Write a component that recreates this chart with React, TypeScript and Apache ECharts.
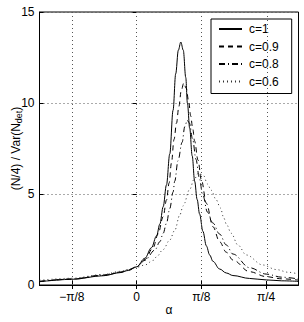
import React, { useEffect, useRef } from "react";
import * as echarts from "echarts";

const PI = Math.PI;

// x-axis ticks (radians) and their labels
const tickValues = [-PI / 8, 0, PI / 8, PI / 4];
const tickLabels = ["−π/8", "0", "π/8", "π/4"];

const seriesNames = ["c=1", "c=0.9", "c=0.8", "c=0.6"];

// c = 1 (solid)
const alphaC1 = [-0.589, -0.395, -0.2, -0.1, -0.05, 0, 0.05, 0.09, 0.121, 0.141, 0.161, 0.181, 0.201, 0.221, 0.237, 0.253, 0.268, 0.283, 0.298, 0.308, 0.322, 0.337, 0.352, 0.367, 0.382, 0.402, 0.423, 0.443, 0.463, 0.503, 0.544, 0.584, 0.685, 0.786, 0.88, 0.982];
const valC1 = [0.18, 0.31, 0.51, 0.68, 0.8, 1.0, 1.47, 2.05, 2.7, 3.35, 4.3, 5.5, 7.2, 9.6, 11.6, 12.9, 13.35, 12.9, 11.4, 10.0, 8.6, 7.1, 5.7, 4.7, 3.9, 2.95, 2.15, 1.65, 1.3, 0.88, 0.66, 0.52, 0.36, 0.28, 0.23, 0.2];

// c = 0.9 (dashed)
const alphaC09 = [-0.589, -0.395, -0.2, -0.1, -0.05, 0, 0.05, 0.1, 0.13, 0.161, 0.181, 0.197, 0.211, 0.227, 0.242, 0.256, 0.271, 0.286, 0.301, 0.316, 0.328, 0.34, 0.352, 0.372, 0.393, 0.423, 0.463, 0.503, 0.544, 0.584, 0.685, 0.786, 0.88, 0.982];
const valC09 = [0.19, 0.32, 0.53, 0.69, 0.82, 1.0, 1.4, 2.05, 2.8, 3.75, 4.67, 5.6, 6.7, 8.0, 8.9, 9.8, 10.7, 11.1, 10.8, 10.07, 9.3, 8.6, 7.9, 6.87, 5.77, 4.49, 3.2, 2.38, 1.8, 1.37, 0.73, 0.46, 0.34, 0.27];

// c = 0.8 (dash-dot)
const alphaC08 = [-0.589, -0.395, -0.2, -0.1, -0.05, 0, 0.05, 0.111, 0.141, 0.161, 0.181, 0.201, 0.221, 0.231, 0.251, 0.276, 0.292, 0.307, 0.32, 0.34, 0.36, 0.38, 0.4, 0.43, 0.463, 0.503, 0.544, 0.584, 0.685, 0.786, 0.88, 0.982];
const valC08 = [0.2, 0.33, 0.55, 0.71, 0.84, 1.0, 1.35, 1.92, 2.38, 2.84, 3.39, 4.2, 5.1, 5.7, 6.83, 7.84, 8.7, 9.05, 8.9, 8.0, 6.9, 5.9, 5.0, 4.0, 3.4, 2.8, 2.2, 1.7, 0.95, 0.6, 0.43, 0.33];

// c = 0.6 (dotted)
const alphaC06 = [-0.589, -0.395, -0.2, -0.1, -0.05, 0, 0.05, 0.1, 0.121, 0.161, 0.201, 0.231, 0.262, 0.282, 0.322, 0.348, 0.376, 0.407, 0.429, 0.453, 0.483, 0.508, 0.529, 0.544, 0.574, 0.614, 0.665, 0.765, 0.846, 0.92, 0.982];
const valC06 = [0.26, 0.37, 0.58, 0.75, 0.85, 0.97, 1.1, 1.35, 1.55, 1.95, 2.47, 3.0, 3.85, 4.35, 5.25, 5.8, 6.15, 6.0, 5.55, 5.2, 4.67, 4.23, 3.68, 3.35, 2.84, 2.2, 1.65, 1.1, 0.85, 0.7, 0.6];

const alphas = [alphaC1, alphaC09, alphaC08, alphaC06];
const values = [valC1, valC09, valC08, valC06];
const dashes: (string | number[])[] = ["solid", [5, 4], [6, 3, 1, 3], [1, 3]];
const colors = ["#000", "#000", "#000", "#333"];

const FONT = "'Liberation Sans', Arial, Helvetica, sans-serif";

export default function App() {
  const ref = useRef<HTMLDivElement>(null);
  useEffect(() => {
    if (!ref.current) return;
    const chart = echarts.init(ref.current, null, { renderer: "svg" });
    const series: any[] = seriesNames.map((name, i) => ({
      name,
      type: "line",
      data: alphas[i].map((a, j) => [a, values[i][j]]),
      showSymbol: false,
      symbol: "none",
      smooth: 0.35,
      smoothMonotone: "x",
      lineStyle: { color: colors[i], width: 1, type: dashes[i] },
      itemStyle: { color: colors[i] },
      z: 3,
    }));
    series.push({
      name: "grid",
      type: "line",
      data: [],
      silent: true,
      markLine: {
        silent: true,
        symbol: "none",
        label: { show: false },
        lineStyle: { color: "#555", width: 1, type: [1, 3] },
        data: tickValues.map((v) => ({ xAxis: v })),
      },
      z: 1,
    });
    chart.setOption({
      animation: false,
      textStyle: { fontFamily: FONT },
      grid: {
        left: 39.5,
        top: 12,
        right: 5.5,
        bottom: 37,
        outerBoundsMode: "none",
        containLabel: false,
        show: true,
        borderColor: "#000",
        borderWidth: 1,
        backgroundColor: "#fff",
      },
      legend: {
        data: seriesNames,
        orient: "vertical",
        left: 211,
        top: 19,
        itemWidth: 23,
        itemHeight: 10,
        itemGap: 5.5,
        padding: [4, 13, 6, 7],
        backgroundColor: "#fff",
        borderColor: "#000",
        borderWidth: 1,
        borderRadius: 0,
        itemStyle: { opacity: 0 },
        textStyle: { fontFamily: FONT, fontSize: 12, color: "#000", padding: [0, 0, 0, 2] },
        selectedMode: false,
      },
      xAxis: [
        {
          type: "value",
          min: -3 * PI / 16,
          max: 5 * PI / 16,
          name: "α",
          nameLocation: "middle",
          nameGap: 19,
          nameMoveOverlap: false,
          nameTextStyle: { fontFamily: FONT, fontSize: 12, color: "#000" },
          axisLine: { show: true, onZero: false, lineStyle: { color: "#000", width: 1 } },
          axisTick: { show: true, inside: true, length: 4, customValues: tickValues, lineStyle: { color: "#000" } },
          axisLabel: {
            show: true,
            customValues: tickValues,
            margin: 6,
            fontFamily: FONT,
            fontSize: 12,
            color: "#000",
            formatter: (v: number) => {
              const idx = tickValues.findIndex((t) => Math.abs(t - v) < 1e-6);
              return idx >= 0 ? tickLabels[idx] : "";
            },
          },
          splitLine: { show: false },
        },
        {
          type: "value",
          position: "top",
          min: -3 * PI / 16,
          max: 5 * PI / 16,
          axisLine: { show: false },
          axisTick: { show: true, inside: true, length: 4, customValues: tickValues, lineStyle: { color: "#000" } },
          axisLabel: { show: false },
          splitLine: { show: false },
        },
      ],
      yAxis: [
        {
          type: "value",
          min: 0,
          max: 15,
          interval: 5,
          name: "(N/4) / Var(N{sub|det})",
          nameLocation: "middle",
          nameGap: 16,
          nameMoveOverlap: false,
          nameRotate: 90,
          nameTextStyle: {
            fontFamily: FONT,
            fontSize: 12,
            color: "#000",
            rich: {
              sub: { fontFamily: FONT, fontSize: 9, color: "#000", verticalAlign: "bottom", padding: [6, 0, 0, 0] },
            },
          },
          axisLine: { show: true, onZero: false, lineStyle: { color: "#000", width: 1 } },
          axisTick: { show: true, inside: true, length: 4, lineStyle: { color: "#000" } },
          axisLabel: { margin: 5, fontFamily: FONT, fontSize: 12, color: "#000" },
          splitLine: { show: true, lineStyle: { color: "#555", width: 1, type: [1, 3] } },
        },
        {
          type: "value",
          position: "right",
          min: 0,
          max: 15,
          interval: 5,
          axisLine: { show: false },
          axisTick: { show: true, inside: true, length: 4, lineStyle: { color: "#000" } },
          axisLabel: { show: false },
          splitLine: { show: false },
        },
      ],
      series,
    });
    return () => chart.dispose();
  }, []);
  return (
    <div
      ref={ref}
      style={{ position: "absolute", left: 0, top: 0, width: 304, height: 322, background: "#fff" }}
    />
  );
}
